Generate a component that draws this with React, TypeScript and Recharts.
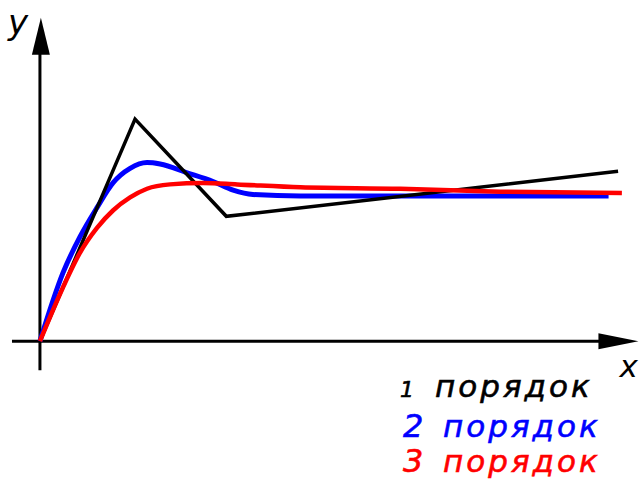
import React from 'react';
import { LineChart, Line, XAxis, YAxis, ReferenceLine, ReferenceDot, Legend } from 'recharts';

// step responses, time in arbitrary units, output normalised to steady state ~1
const order1Time = [0, 5.0, 9.8, 30.4];
const order1Value = [0, 1.53, 0.86, 1.17];

const order2Time = [0, 1.21, 2.11, 3.0, 3.84, 4.74, 5.63, 6.32, 7.74, 9.1, 10.16, 11.2, 13.7, 29.9];
const order2Value = [0, 0.47, 0.72, 0.92, 1.09, 1.19, 1.23, 1.22, 1.16, 1.1, 1.04, 1.01, 1.0, 1.0];

const order3Time = [0, 1.21, 2.11, 3.0, 3.84, 4.74, 5.63, 6.84, 8.58, 10.37, 13.7, 18.95, 24.2, 30.6];
const order3Value = [0, 0.37, 0.61, 0.78, 0.9, 0.99, 1.05, 1.08, 1.09, 1.08, 1.06, 1.05, 1.03, 1.02];

const seriesNames = ['1 порядок', '2 порядок', '3 порядок'];
const seriesColors = ['#000000', '#0000ff', '#ff0000'];

const toPoints = (t: number[], v: number[]) => t.map((x, i) => ({ t: x, v: v[i] }));

const order1 = toPoints(order1Time, order1Value);
const order2 = toPoints(order2Time, order2Value);
const order3 = toPoints(order3Time, order3Value);

const FONT = '"DejaVu Sans", sans-serif';

const renderLegend = (props: any) => {
  const items = [...(props.payload || [])].sort((a: any, b: any) => String(a.value).localeCompare(String(b.value)));
  const rows = [
    { dx: 5, wx: 40, y: 37, size: 22 },
    { dx: 8, wx: 48, y: 77, size: 32 },
    { dx: 8, wx: 48, y: 112, size: 32 },
  ];
  return (
    <svg width={244} height={122} style={{ overflow: 'visible' }}>
      {items.map((it: any, i: number) => {
        const [num, word] = String(it.value).split(' ');
        const r = rows[i];
        return (
          <g key={it.value} fill={it.color} stroke={it.color} strokeWidth={0.6} fontFamily={FONT} fontStyle="italic">
            <text x={r.dx} y={r.y} fontSize={r.size}>{num}</text>
            <text x={r.wx} y={r.y} fontSize={31} letterSpacing={3}>{word}</text>
          </g>
        );
      })}
    </svg>
  );
};

const YArrow = ({ cx, cy }: any) => (
  <g>
    <polygon points={`${cx - 9},${cy + 37} ${cx},${cy} ${cx + 9},${cy + 37}`} fill="#000" />
    <text x={cx - 33} y={cy + 16} fontSize={34} fontStyle="italic" fontFamily={FONT} fill="#000">y</text>
  </g>
);

const XArrow = ({ cx, cy }: any) => (
  <g>
    <polygon points={`${cx - 40},${cy - 8} ${cx},${cy} ${cx - 40},${cy + 8}`} fill="#000" />
    <text x={cx - 19} y={cy + 36} fontSize={31} fontStyle="italic" fontFamily={FONT} fill="#000">x</text>
  </g>
);

export default function App() {
  return (
    <div style={{ position: 'absolute', left: 0, top: 0, width: 639, height: 482, background: '#fff' }}>
      <LineChart width={639} height={482} margin={{ top: 0, right: 0, bottom: 0, left: 0 }}>
        <XAxis type="number" dataKey="t" domain={[-2.1, 31.5]} hide allowDataOverflow />
        <YAxis type="number" dataKey="v" domain={[-0.97, 2.35]} hide allowDataOverflow />
        <ReferenceLine segment={[{ x: -1.47, y: 0 }, { x: 30, y: 0 }]} stroke="#000" strokeWidth={3} ifOverflow="visible" />
        <ReferenceLine segment={[{ x: 0, y: -0.2 }, { x: 0, y: 1.98 }]} stroke="#000" strokeWidth={3} ifOverflow="visible" />
        <ReferenceDot x={0.05} y={2.228} shape={YArrow} ifOverflow="visible" />
        <ReferenceDot x={31.47} y={0} shape={XArrow} ifOverflow="visible" />
        <Line data={order2} dataKey="v" name={seriesNames[1]} type="monotone" stroke={seriesColors[1]} strokeWidth={5} dot={false} activeDot={false} isAnimationActive={false} />
        <Line data={order1} dataKey="v" name={seriesNames[0]} type="linear" stroke={seriesColors[0]} strokeWidth={3.5} dot={false} activeDot={false} isAnimationActive={false} />
        <Line data={order3} dataKey="v" name={seriesNames[2]} type="monotone" stroke={seriesColors[2]} strokeWidth={4.5} dot={false} activeDot={false} isAnimationActive={false} />
        <Legend
          layout="horizontal"
          verticalAlign="middle"
          align="center"
          content={renderLegend}
          wrapperStyle={{ left: 395, top: 360, width: 244, height: 122 }}
        />
      </LineChart>
    </div>
  );
}
